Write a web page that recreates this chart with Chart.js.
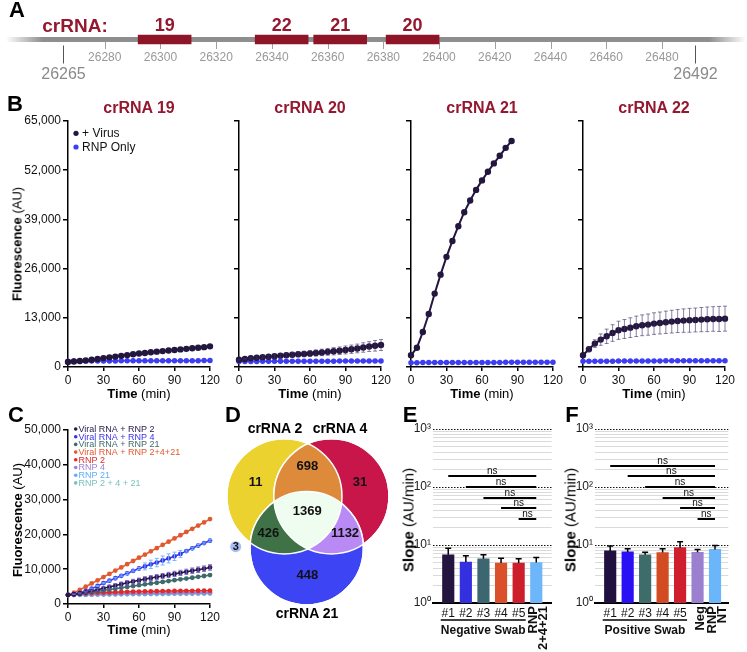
<!DOCTYPE html>
<html>
<head>
<meta charset="utf-8">
<script src="https://cdn.jsdelivr.net/npm/chart.js@4.4.1/dist/chart.umd.min.js"></script>
<style>
  body { margin: 0; width: 747px; height: 652px; position: relative; overflow: hidden; background: #fff; }
  canvas { position: absolute; }
  .t { position: absolute; white-space: nowrap; line-height: 1; color: #000;
       font-family: "Liberation Sans", Arial, Helvetica, sans-serif; }
  .p { font-weight: bold; font-size: 22px; }
  .ti { font-weight: bold; font-size: 16px; color: #931830; }
  .ax { font-size: 13px; }
  .ax2 { font-size: 15px; }
  .vl { font-weight: bold; font-size: 14px; }
</style>
</head>
<body>
<script>
const FONT = '"Liberation Sans", Arial, Helvetica, sans-serif';

// ---- A: genome map ----
const siteStart = 26265, siteEnd = 26492;
const guideNames = ['19', '22', '21', '20'];
const guideStart = [26292, 26334, 26355, 26381];
const guideEnd = [26311, 26353, 26374, 26400];

// ---- B: kinetics per crRNA ----
const timeMin = [0, 5, 10, 15, 20, 25, 30, 35, 40, 45, 50, 55, 60, 65, 70, 75, 80, 85, 90, 95, 100, 105, 110, 115, 120];
const virus19 = [1350, 1450, 1600, 1750, 1900, 2100, 2350, 2550, 2750, 2950, 3150, 3350, 3550, 3700, 3900, 4050, 4200, 4350, 4500, 4650, 4800, 4950, 5100, 5250, 5450];
const rnp19 = [1550, 1560, 1570, 1580, 1590, 1590, 1600, 1610, 1610, 1620, 1620, 1630, 1630, 1640, 1640, 1650, 1650, 1660, 1660, 1670, 1670, 1680, 1680, 1690, 1700];
const virus20 = [1900, 2100, 2300, 2450, 2600, 2700, 2850, 3000, 3100, 3250, 3350, 3450, 3550, 3700, 3850, 4000, 4150, 4300, 4500, 4700, 4900, 5150, 5400, 5600, 5800];
const err20 = [100, 200, 250, 300, 350, 400, 450, 500, 550, 600, 650, 700, 750, 800, 850, 900, 950, 1000, 1050, 1100, 1150, 1250, 1300, 1400, 1450];
const rnp20 = [1450, 1460, 1470, 1480, 1490, 1500, 1500, 1510, 1510, 1520, 1520, 1530, 1530, 1540, 1540, 1550, 1550, 1560, 1560, 1570, 1570, 1580, 1580, 1590, 1600];
const virus21 = [3100, 5100, 9250, 14000, 19400, 24400, 29100, 33300, 37200, 40900, 44000, 46800, 49300, 51600, 53800, 55800, 57900, 59700];
const rnp21 = [1150, 1150, 1160, 1160, 1170, 1170, 1180, 1180, 1190, 1190, 1200, 1200, 1210, 1210, 1220, 1220, 1230, 1230, 1240, 1240, 1250, 1250, 1260, 1260, 1270];
const virus22 = [3090, 4680, 6180, 7240, 8110, 8980, 9700, 10040, 10400, 10750, 11020, 11200, 11470, 11630, 11810, 11990, 12160, 12260, 12340, 12420, 12520, 12600, 12690, 12690, 12780];
const err22 = [0, 600, 1000, 1500, 1900, 2200, 2400, 2500, 2600, 2700, 2750, 2800, 2850, 2900, 2950, 3000, 3050, 3100, 3150, 3150, 3200, 3250, 3250, 3300, 3300];
const rnp22 = [1500, 1510, 1520, 1530, 1540, 1550, 1560, 1570, 1580, 1590, 1600, 1600, 1610, 1610, 1620, 1620, 1630, 1630, 1640, 1640, 1650, 1650, 1660, 1660, 1670];

// ---- C: combined crRNAs ----
const cLabels = ['Viral RNA + RNP 2', 'Viral RNA + RNP 4', 'Viral RNA + RNP 21', 'Viral RNA + RNP 2+4+21', 'RNP 2', 'RNP 4', 'RNP 21', 'RNP 2 + 4 + 21'];
const cV2 = [2600, 2800, 3050, 3350, 3700, 4100, 4500, 4900, 5300, 5700, 6100, 6450, 6800, 7150, 7450, 7750, 8050, 8350, 8650, 8950, 9250, 9550, 9850, 10150, 10500];
const cV2err = [0, 100, 150, 200, 300, 400, 450, 500, 550, 600, 600, 650, 650, 700, 700, 700, 700, 750, 750, 750, 750, 800, 800, 800, 800];
const cV4 = [2600, 2850, 3200, 3700, 4400, 5200, 6000, 6700, 7400, 8100, 8800, 9500, 10200, 10800, 11400, 11900, 12500, 13100, 13700, 14400, 15200, 16000, 16800, 17500, 18200];
const cV4err = [0, 0, 100, 100, 150, 150, 200, 200, 250, 250, 300, 300, 300, 1000, 1200, 1200, 1300, 1300, 1200, 1000, 300, 300, 300, 300, 300];
const cV21 = [2600, 2750, 2950, 3150, 3400, 3650, 3900, 4150, 4400, 4650, 4900, 5150, 5400, 5650, 5900, 6100, 6350, 6600, 6850, 7100, 7300, 7550, 7800, 8050, 8300];
const cV2421 = [2600, 3250, 4050, 4950, 5900, 6800, 7750, 8650, 9600, 10500, 11450, 12350, 13300, 14200, 15150, 16050, 17000, 17900, 18850, 19750, 20700, 21600, 22550, 23450, 24400];
const cR2 = [2600, 2800, 2950, 3050, 3150, 3250, 3300, 3350, 3400, 3450, 3500, 3550, 3580, 3610, 3640, 3670, 3700, 3720, 3740, 3760, 3780, 3800, 3810, 3820, 3830];
const cR4 = [2600, 2650, 2700, 2750, 2800, 2850, 2900, 2950, 2980, 3010, 3040, 3070, 3100, 3120, 3140, 3160, 3180, 3200, 3220, 3240, 3250, 3260, 3270, 3280, 3300];
const cR21 = [2600, 2630, 2660, 2690, 2720, 2750, 2780, 2810, 2840, 2870, 2900, 2920, 2940, 2960, 2980, 3000, 3020, 3040, 3060, 3080, 3100, 3110, 3120, 3130, 3150];
const cR2421 = [2600, 2620, 2640, 2660, 2680, 2700, 2720, 2740, 2760, 2780, 2800, 2810, 2820, 2830, 2840, 2860, 2880, 2900, 2910, 2920, 2940, 2950, 2960, 2980, 3000];

// ---- D: venn counts (2 only, 4 only, 21 only, 2&4, 2&21, 4&21, all) ----
const vennSets = ['crRNA 2', 'crRNA 4', 'crRNA 21'];
const vennCounts = [11, 31, 448, 698, 426, 1132, 1369];
const vennOutside = 3;

// ---- E / F: slopes ----
const negLabels = ['#1', '#2', '#3', '#4', '#5', 'RNP 2+4+21'];
const negSlope = [6.8, 5.1, 5.8, 4.9, 4.9, 5.0];
const negErr = [2.0, 1.4, 1.0, 1.0, 0.9, 1.1];
const negStats = ['ns', 'ns', 'ns', 'ns', 'ns'];
const posLabels = ['#1', '#2', '#3', '#4', '#5', 'Neg', 'RNP NT'];
const posSlope = [7.9, 7.6, 6.8, 7.4, 9.0, 7.5, 8.4];
const posErr = [1.7, 1.0, 0.7, 1.2, 2.4, 0.9, 1.4];
const posStats = ['ns', 'ns', 'ns', 'ns', 'ns', 'ns'];

Chart.defaults.font.family = FONT;
Chart.defaults.color = '#111';

const crimson = '#931830';
const navy = '#24173f';
const rnpBlue = '#3d3ef0';

function makeCanvas(left, top, width, height) {
  const c = document.createElement('canvas');
  c.width = width; c.height = height;
  c.style.left = left + 'px'; c.style.top = top + 'px';
  c.style.width = width + 'px'; c.style.height = height + 'px';
  document.body.appendChild(c);
  return c;
}

function addText(html, x, y, cls, rotate) {
  const d = document.createElement('div');
  d.className = 't ' + cls;
  d.innerHTML = html;
  d.style.left = x + 'px'; d.style.top = y + 'px';
  d.style.transform = 'translate(-50%,-50%)' + (rotate ? ' rotate(-90deg)' : '');
  document.body.appendChild(d);
}

// error bars, drawn from the y scale
const errorBars = {
  id: 'errorBars',
  afterDatasetDraw(chart, args) {
    const ds = chart.data.datasets[args.index];
    if (!ds.errors) return;
    const ctx = chart.ctx, ys = chart.scales.y;
    ctx.save();
    ctx.strokeStyle = ds.errorColor;
    ctx.lineWidth = ds.errorWidth || 1;
    args.meta.data.forEach((el, i) => {
      const e = ds.errors[i];
      if (!e) return;
      const raw = ds.data[i];
      const v = typeof raw === 'object' ? raw.y : raw;
      const top = ys.getPixelForValue(v + e);
      const bottom = ds.errorUp ? el.y : ys.getPixelForValue(v - e);
      const c = ds.errorCap;
      ctx.beginPath();
      ctx.moveTo(el.x, top); ctx.lineTo(el.x, bottom);
      ctx.moveTo(el.x - c, top); ctx.lineTo(el.x + c, top);
      if (!ds.errorUp) { ctx.moveTo(el.x - c, bottom); ctx.lineTo(el.x + c, bottom); }
      ctx.stroke();
    });
    ctx.restore();
  }
};

// small legend inside the plot area
const inlineLegend = {
  id: 'inlineLegend',
  afterDatasetsDraw(chart, args, o) {
    const {ctx, chartArea} = chart;
    ctx.save();
    ctx.font = o.font;
    ctx.textBaseline = 'middle';
    ctx.textAlign = 'left';
    chart.data.datasets.forEach((ds, i) => {
      const x = chartArea.left + o.dx;
      const y = chartArea.top + o.dy + i * o.step;
      ctx.fillStyle = ds.borderColor;
      ctx.beginPath(); ctx.arc(x, y, o.r, 0, Math.PI * 2); ctx.fill();
      ctx.fillStyle = o.color || ds.borderColor;
      ctx.fillText(ds.label, x + o.r + o.gap, y + 0.5);
    });
    ctx.restore();
  }
};

// ---------- A ----------
const genomePlugin = {
  id: 'genome',
  beforeDatasetsDraw(chart) {
    const {ctx, chartArea: a, scales: {x}} = chart;
    const yc = (a.top + a.bottom) / 2;
    ctx.save();
    const g = ctx.createLinearGradient(a.left - 4, 0, a.right + 6, 0);
    g.addColorStop(0, 'rgba(140,140,140,0)');
    g.addColorStop(0.05, '#8e8e8e');
    g.addColorStop(0.95, '#8e8e8e');
    g.addColorStop(1, 'rgba(140,140,140,0)');
    ctx.fillStyle = g;
    ctx.fillRect(a.left - 4, yc - 2.5, a.right - a.left + 10, 5);
    ctx.strokeStyle = '#a0a0a0';
    ctx.lineWidth = 1;
    x.ticks.forEach(t => {
      const px = Math.round(x.getPixelForValue(t.value)) + 0.5;
      ctx.beginPath(); ctx.moveTo(px, yc + 2); ctx.lineTo(px, a.bottom); ctx.stroke();
    });
    ctx.restore();
  },
  afterDatasetsDraw(chart) {
    const {ctx, chartArea: a, scales: {x}} = chart;
    const yc = (a.top + a.bottom) / 2;
    ctx.save();
    ctx.textAlign = 'center';
    ctx.textBaseline = 'middle';
    ctx.fillStyle = crimson;
    ctx.font = 'bold 18px ' + FONT;
    chart.data.datasets.forEach((ds, i) => {
      const el = chart.getDatasetMeta(i).data[0];
      ctx.fillText(ds.label, (el.x + el.base) / 2, el.y - 13);
    });
    ctx.font = 'bold 19px ' + FONT;
    ctx.fillText('crRNA:', a.left + 65, yc - 13);
    [siteStart, siteEnd].forEach(v => {
      const px = Math.round(x.getPixelForValue(v)) + 0.5;
      ctx.strokeStyle = '#555';
      ctx.beginPath(); ctx.moveTo(px, yc + 6); ctx.lineTo(px, yc + 24); ctx.stroke();
      ctx.fillStyle = '#8a8a8a';
      ctx.font = '16px ' + FONT;
      ctx.fillText(String(v), px, yc + 35);
    });
    ctx.restore();
  }
};

new Chart(makeCanvas(0, 0, 747, 85), {
  type: 'bar',
  data: {
    labels: ['crRNA'],
    datasets: guideNames.map((n, i) => ({
      label: n,
      data: [[guideStart[i], guideEnd[i]]],
      backgroundColor: '#8e1428',
      barThickness: 9,
      grouped: false
    }))
  },
  options: {
    indexAxis: 'y',
    responsive: false, animation: false, events: [],
    layout: { padding: { left: 10, right: 7, top: 30, bottom: 0 } },
    plugins: { legend: { display: false }, tooltip: { enabled: false } },
    scales: {
      x: {
        type: 'linear', min: 26246, max: 26508,
        grid: { display: false, drawTicks: false },
        border: { display: false },
        ticks: { stepSize: 20, includeBounds: false, color: '#999', font: { size: 12 }, padding: 1,
                 maxRotation: 0, autoSkip: false, callback: v => String(v) },
        afterBuildTicks: s => { s.ticks = s.ticks.filter(t => t.value >= 26280 && t.value <= 26480); },
        afterFit: s => { s.height = 36; }
      },
      y: { display: false }
    }
  },
  plugins: [genomePlugin]
});
addText('A', 17, 10, 'p');

// ---------- B ----------
const bLeft = [68, 239, 411, 583];
const bPanels = [
  { title: 'crRNA 19', virus: virus19, err: null, rnp: rnp19 },
  { title: 'crRNA 20', virus: virus20, err: err20, rnp: rnp20 },
  { title: 'crRNA 21', virus: virus21, err: null, rnp: rnp21 },
  { title: 'crRNA 22', virus: virus22, err: err22, rnp: rnp22 }
];
const pts = arr => arr.map((v, k) => ({ x: timeMin[k], y: v }));

function axisX(height, max, step) {
  return {
    type: 'linear', min: 0, max: max,
    grid: { drawOnChartArea: false, color: '#000', tickLength: 4, lineWidth: 1.5 },
    border: { color: '#000', width: 1.5 },
    ticks: { stepSize: step, font: { size: 12 }, color: '#111', padding: 2, maxRotation: 0 },
    afterFit: s => { s.height = height; }
  };
}

bPanels.forEach((p, i) => {
  const plugins = [errorBars];
  if (i === 0) plugins.push(inlineLegend);
  new Chart(makeCanvas(bLeft[i] - 62, 111, 220, 278), {
    type: 'line',
    data: {
      datasets: [
        { label: '+ Virus', data: pts(p.virus), borderColor: navy, backgroundColor: navy,
          pointRadius: 2.2, borderWidth: 2, clip: false,
          errors: p.err, errorColor: 'rgba(60,45,100,0.6)', errorCap: 2, errorWidth: 1 },
        { label: 'RNP Only', data: pts(p.rnp), borderColor: rnpBlue, backgroundColor: rnpBlue,
          pointRadius: 2, borderWidth: 1.5, clip: false }
      ]
    },
    options: {
      responsive: false, animation: false, events: [],
      layout: { padding: { left: 2, right: 16, top: 10, bottom: 0 }, autoPadding: false },
      plugins: {
        legend: { display: false }, tooltip: { enabled: false },
        inlineLegend: { dx: 8, dy: 12.3, step: 13.7, r: 2.6, gap: 3.5, font: '12px ' + FONT, color: '#111' }
      },
      scales: {
        x: axisX(22, 120, 30),
        y: {
          min: 0, max: 65000,
          grid: { drawOnChartArea: false, color: '#000', tickLength: 5, lineWidth: 1.5 },
          border: { color: '#000', width: 1.5 },
          ticks: { stepSize: 13000, font: { size: 12 }, color: '#111', padding: 2,
                   callback: v => i === 0 ? v.toLocaleString('en-US') : '' },
          afterFit: s => { s.width = 60; }
        }
      }
    },
    plugins: plugins
  });
  addText(p.title, bLeft[i] + 71, 108, 'ti');
  addText('<b>Time</b> (min)', bLeft[i] + 71, 393, 'ax');
});
addText('B', 15, 104, 'p');
addText('<b>Fluorescence</b> (AU)', 17, 244, 'ax', true);

// ---------- C ----------
const cSeries = [cV2, cV4, cV21, cV2421, cR2, cR4, cR21, cR2421];
const cColors = ['#261a4a', '#3a33ec', '#3e6a6b', '#e2592f', '#e12a2a', '#9b82d4', '#5cb0f7', '#78c2bd'];
const cErrs = [cV2err, cV4err, null, null, null, null, null, null];
const cErrColors = ['rgba(125,95,205,0.9)', 'rgba(110,180,255,0.95)'];

new Chart(makeCanvas(6, 420, 220, 206), {
  type: 'line',
  data: {
    datasets: cSeries.map((s, i) => ({
      label: cLabels[i], data: pts(s),
      borderColor: cColors[i], backgroundColor: cColors[i],
      pointRadius: 1.6, borderWidth: 1.6, clip: false,
      errors: cErrs[i], errorColor: cErrColors[i], errorCap: 2, errorWidth: 1
    }))
  },
  options: {
    responsive: false, animation: false, events: [],
    layout: { padding: { left: 2, right: 16, top: 10, bottom: 0 }, autoPadding: false },
    plugins: {
      legend: { display: false }, tooltip: { enabled: false },
      inlineLegend: { dx: 7.7, dy: -1, step: 7.7, r: 1.8, gap: 1, font: '9px ' + FONT }
    },
    scales: {
      x: axisX(22, 120, 30),
      y: {
        min: 0, max: 50000,
        grid: { drawOnChartArea: false, color: '#000', tickLength: 5, lineWidth: 1.5 },
        border: { color: '#000', width: 1.5 },
        ticks: { stepSize: 10000, font: { size: 12 }, color: '#111', padding: 2,
                 callback: v => v.toLocaleString('en-US') },
        afterFit: s => { s.width = 60; }
      }
    }
  },
  plugins: [errorBars, inlineLegend]
});
addText('C', 16, 415, 'p');
addText('<b>Fluorescence</b> (AU)', 17, 520, 'ax', true);
addText('<b>Time</b> (min)', 139, 629, 'ax');

// ---------- D ----------
const vennColors = ['#ecd22e', '#c8164a', '#3c44f4', '#dd8a3b', '#3f7347', '#b98af3', '#effcf0'];
const vennCircles = [{ x: 62.4, y: 78.3, r: 57.6 }, { x: 109.4, y: 78.3, r: 57.6 }, { x: 84.7, y: 130.3, r: 56.7 }];
const vennLabelAt = [[33.7, 64.7], [138, 64.7], [85.3, 157], [85.3, 48], [46.3, 115.3], [123, 115.3], [85.3, 93.7]];

const vennPlugin = {
  id: 'venn',
  afterDatasetsDraw(chart) {
    const {ctx, chartArea: a} = chart;
    const c = chart.getDatasetMeta(0).data.map(e => ({ x: e.x, y: e.y, r: e.options.radius }));
    const path = k => { ctx.beginPath(); ctx.arc(c[k].x, c[k].y, c[k].r, 0, Math.PI * 2); };
    const overlay = (clips, k, col) => {
      ctx.save();
      clips.forEach(j => { path(j); ctx.clip(); });
      path(k); ctx.fillStyle = col; ctx.fill();
      ctx.restore();
    };
    overlay([0], 1, vennColors[3]);
    overlay([0], 2, vennColors[4]);
    overlay([1], 2, vennColors[5]);
    overlay([0, 1], 2, vennColors[6]);
    ctx.save();
    ctx.strokeStyle = '#fff'; ctx.lineWidth = 1.5;
    [0, 1, 2].forEach(k => { path(k); ctx.stroke(); });
    ctx.fillStyle = '#111';
    ctx.font = 'bold 13px ' + FONT;
    ctx.textAlign = 'center'; ctx.textBaseline = 'middle';
    vennCounts.forEach((n, i) => ctx.fillText(String(n), a.left + vennLabelAt[i][0], a.top + vennLabelAt[i][1]));
    const o = chart.getDatasetMeta(1).data[0];
    ctx.font = 'bold 11px ' + FONT;
    ctx.fillText(String(vennOutside), o.x, o.y + 0.5);
    ctx.restore();
  }
};

new Chart(makeCanvas(222, 418, 175, 205), {
  type: 'bubble',
  data: {
    datasets: [
      { data: vennCircles, backgroundColor: vennColors.slice(0, 3), borderColor: '#fff', borderWidth: 1.5, clip: false },
      { data: [{ x: 13.7, y: 128.7, r: 5.5 }], backgroundColor: '#a9bdf2', borderWidth: 0, clip: false }
    ]
  },
  options: {
    responsive: false, animation: false, events: [],
    layout: { padding: 0, autoPadding: false },
    plugins: { legend: { display: false }, tooltip: { enabled: false } },
    scales: {
      x: { display: false, min: 0, max: 175 },
      y: { display: false, min: 0, max: 205, reverse: true }
    }
  },
  plugins: [vennPlugin]
});
addText('D', 233, 415, 'p');
addText(vennSets[0], 275, 428, 'vl');
addText(vennSets[1], 340, 428, 'vl');
addText(vennSets[2], 307, 613, 'vl');

// ---------- E / F ----------
const sup = ['\u2070', '\u00b9', '\u00b2', '\u00b3'];
const logTicks = [];
[1, 10, 100].forEach(d => { for (let m = 1; m <= 9; m++) logTicks.push(m * d); });
logTicks.push(1000);
const isDecade = v => [1, 10, 100, 1000].includes(v);

const sigPlugin = {
  id: 'sig',
  afterDraw(chart, args, o) {
    const {ctx, chartArea: a, scales: {x}} = chart;
    const ref = o.stats.length;
    const xr = x.getPixelForValue(ref);
    ctx.save();
    ctx.strokeStyle = '#000'; ctx.fillStyle = '#111';
    ctx.lineWidth = 2;
    ctx.font = '10px ' + FONT;
    ctx.textAlign = 'center'; ctx.textBaseline = 'alphabetic';
    o.stats.forEach((s, k) => {
      const y = Math.round(a.bottom - o.base - (ref - 1 - k) * o.step);
      const xl = x.getPixelForValue(k);
      ctx.beginPath(); ctx.moveTo(xl, y); ctx.lineTo(xr, y); ctx.stroke();
      ctx.fillText(s, (xl + xr) / 2, y - 2.5);
    });
    const nHash = o.labels.filter(l => l.startsWith('#')).length;
    const g0 = x.getPixelForValue(0) - 7.5, g1 = x.getPixelForValue(nHash - 1) + 7;
    ctx.lineWidth = 1.5;
    ctx.beginPath(); ctx.moveTo(g0, a.bottom + 17); ctx.lineTo(g1, a.bottom + 17); ctx.stroke();
    ctx.font = 'bold 12px ' + FONT;
    ctx.textBaseline = 'middle';
    ctx.fillText(o.group, (g0 + g1) / 2, a.bottom + 28);
    ctx.font = 'bold 13px ' + FONT;
    ctx.textAlign = 'right';
    o.labels.forEach((l, i) => {
      if (l.startsWith('#')) return;
      const lines = l.split(' ');
      lines.forEach((ln, j) => {
        ctx.save();
        ctx.translate(x.getPixelForValue(i) + 2.5 + (j - (lines.length - 1) / 2) * 10, a.bottom + 3);
        ctx.rotate(-Math.PI / 2);
        ctx.fillText(ln, 0, 0);
        ctx.restore();
      });
    });
    ctx.restore();
  }
};

function slopeChart(left, width, padLeft, padRight, xmin, xmax, labels, values, errs, colors, stats, group) {
  new Chart(makeCanvas(left, 418, width, 234), {
    type: 'bar',
    data: {
      datasets: [{
        data: values.map((v, i) => ({ x: i, y: v })),
        backgroundColor: colors, barThickness: 11.5,
        errors: errs, errorUp: true, errorColor: '#000', errorCap: 3, errorWidth: 1.5
      }]
    },
    options: {
      responsive: false, animation: false, events: [],
      layout: { padding: { left: padLeft, right: padRight, top: 11, bottom: 0 }, autoPadding: false },
      plugins: {
        legend: { display: false }, tooltip: { enabled: false },
        sig: { stats: stats, labels: labels, group: group, base: 84.3, step: 10.6 }
      },
      scales: {
        x: {
          type: 'linear', min: xmin, max: xmax, offset: false,
          grid: { display: false, drawTicks: false, offset: false },
          border: { color: '#000', width: 2 },
          ticks: { stepSize: 1, includeBounds: false, autoSkip: false, maxRotation: 0, padding: 3,
                   font: { size: 12 }, color: '#111',
                   callback: v => (labels[v] && labels[v].startsWith('#')) ? labels[v] : '' },
          afterFit: s => { s.height = 49; }
        },
        y: {
          type: 'logarithmic', min: 1, max: 1000,
          afterBuildTicks: s => { s.ticks = logTicks.map(v => ({ value: v })); },
          grid: { drawTicks: false, lineWidth: 1,
                  color: c => isDecade(c.tick && c.tick.value) ? '#111' : '#dadada' },
          border: { display: false, dash: c => (c.tick && isDecade(c.tick.value)) ? [1.5, 1.5] : [] },
          ticks: { autoSkip: false, padding: 2, font: { size: 12 }, color: '#222',
                   callback: v => isDecade(v) ? '10' + sup[Math.round(Math.log10(v))] : '' },
          afterFit: s => { s.width = 30; }
        }
      }
    },
    plugins: [errorBars, sigPlugin]
  });
}

slopeChart(400, 160, 3, 8.3, -0.866, 5.877, negLabels, negSlope, negErr,
  ['#231540', '#3330e0', '#3c6670', '#d9502a', '#cc1f2b', '#6cb6f9'], negStats, 'Negative Swab');
slopeChart(560, 187, 5, 18.7, -0.87, 6.76, posLabels, posSlope, posErr,
  ['#1f1040', '#2a10f5', '#3e6c6a', '#d24b22', '#d01f2c', '#9a80cf', '#6bb6fb'], posStats, 'Positive Swab');
addText('E', 410, 415, 'p');
addText('F', 572, 415, 'p');
addText('<b>Slope</b> (AU/min)', 408, 520, 'ax2', true);
addText('<b>Slope</b> (AU/min)', 570, 520, 'ax2', true);
</script>
</body>
</html>
